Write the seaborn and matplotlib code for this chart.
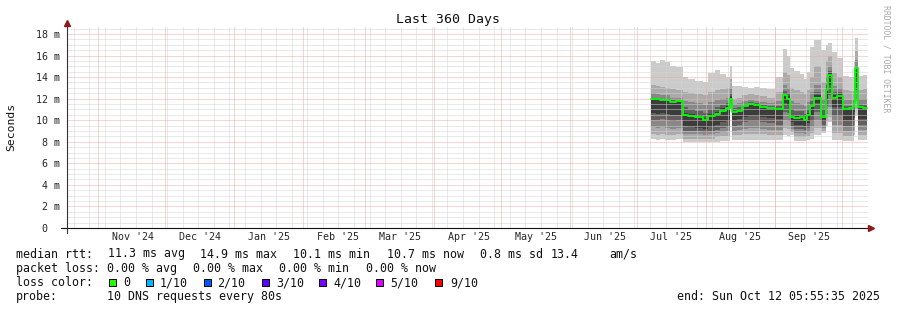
import matplotlib
matplotlib.use("Agg")
import matplotlib.pyplot as plt
from matplotlib.lines import Line2D
from matplotlib.patches import Rectangle
import numpy as np
import pandas as pd
import seaborn as sns

# ---------------- data ----------------
dates = ["2025-07-07 10:00", "2025-07-09 12:00", "2025-07-11 12:00", "2025-07-13 12:00",
         "2025-07-15 22:00", "2025-07-18 12:00", "2025-07-21 20:00", "2025-07-24 00:00",
         "2025-07-27 06:00", "2025-07-30 18:00", "2025-08-02 00:00", "2025-08-05 00:00",
         "2025-08-07 10:00", "2025-08-10 00:00", "2025-08-11 20:00", "2025-08-12 18:00",
         "2025-08-15 00:00", "2025-08-17 08:00", "2025-08-20 00:00", "2025-08-22 12:00",
         "2025-08-25 10:00", "2025-08-28 12:00", "2025-09-01 02:00", "2025-09-04 16:00",
         "2025-09-06 12:00", "2025-09-07 20:00", "2025-09-09 12:00", "2025-09-12 08:00",
         "2025-09-14 06:00", "2025-09-15 12:00", "2025-09-16 20:00", "2025-09-18 14:00",
         "2025-09-21 18:00", "2025-09-24 00:00", "2025-09-24 22:00", "2025-09-26 16:00",
         "2025-09-29 00:00", "2025-10-01 16:00", "2025-10-04 12:00", "2025-10-06 12:00",
         "2025-10-07 04:00", "2025-10-08 10:00", "2025-10-10 12:00", "2025-10-12 06:00"]

median = [12.0, 12.0, 11.9, 11.9, 11.7, 11.8, 10.5, 10.4, 10.3, 10.0, 10.4, 10.6,
          10.9, 11.1, 12.0, 10.8, 10.9, 11.3, 11.5, 11.4, 11.2, 11.1, 11.0, 12.3,
          12.0, 10.3, 10.2, 10.3, 10.0, 10.5, 11.3, 12.1, 10.3, 12.8, 14.2, 12.1,
          12.2, 11.0, 11.1, 11.6, 14.8, 11.2, 11.1, 11.1]

lo1 = [8.3, 8.2, 8.3, 8.2, 8.2, 8.3, 8.0, 8.0, 8.0, 8.0, 8.0, 8.0,
       8.1, 8.1, 11.0, 8.2, 8.2, 8.2, 8.2, 8.2, 8.2, 8.2, 8.2, 8.6,
       8.5, 8.6, 8.1, 8.1, 8.1, 8.2, 8.3, 8.6, 8.8, 9.5, 9.8, 8.2,
       8.2, 8.1, 8.1, 8.6, 10.5, 8.2, 8.2, 8.2]
hi1 = [15.5, 15.3, 15.6, 15.4, 15.0, 14.9, 14.0, 13.8, 13.6, 13.5, 14.4, 14.7,
       14.3, 14.0, 15.0, 13.2, 13.2, 13.1, 13.0, 13.1, 13.0, 12.9, 14.0, 16.6,
       16.0, 14.8, 14.6, 14.3, 13.8, 14.5, 16.8, 17.4, 16.5, 17.0, 17.2, 16.3,
       15.8, 14.1, 14.0, 15.5, 17.6, 14.1, 14.2, 14.2]
lo2 = [8.7, 8.6, 8.7, 8.6, 8.6, 8.7, 8.3, 8.3, 8.3, 8.3, 8.3, 8.4,
       8.5, 8.5, 11.1, 8.6, 8.6, 8.7, 8.7, 8.7, 8.7, 8.6, 8.6, 9.3,
       9.2, 8.9, 8.4, 8.4, 8.4, 8.5, 8.8, 9.3, 9.0, 9.9, 10.3, 8.8,
       8.8, 8.5, 8.5, 9.0, 11.0, 8.6, 8.6, 8.6]
hi2 = [13.3, 13.2, 13.1, 13.0, 12.9, 12.8, 12.6, 12.5, 12.4, 12.3, 12.6, 12.8,
       12.9, 13.0, 13.8, 12.0, 12.1, 12.3, 12.4, 12.3, 12.2, 12.1, 12.6, 14.5,
       14.2, 13.0, 12.8, 12.6, 12.4, 12.8, 14.0, 15.0, 13.5, 15.5, 16.0, 14.4,
       14.0, 12.8, 12.7, 13.5, 16.4, 12.8, 12.9, 12.9]
lo3 = [9.4, 9.3, 9.4, 9.3, 9.2, 9.3, 8.7, 8.7, 8.7, 8.6, 8.7, 8.8,
       8.9, 9.0, 11.3, 9.0, 9.1, 9.2, 9.3, 9.3, 9.2, 9.1, 9.1, 10.0,
       9.9, 9.2, 8.8, 8.8, 8.7, 8.9, 9.4, 10.0, 9.3, 10.6, 11.2, 9.6,
       9.6, 9.0, 9.0, 9.6, 11.8, 9.1, 9.1, 9.1]
hi3 = [12.5, 12.4, 12.3, 12.3, 12.1, 12.1, 11.8, 11.7, 11.6, 11.4, 11.7, 11.9,
       12.0, 12.1, 13.0, 11.5, 11.6, 11.8, 11.9, 11.8, 11.7, 11.6, 11.8, 13.3,
       13.0, 11.8, 11.6, 11.5, 11.3, 11.7, 12.6, 13.3, 12.0, 14.0, 15.0, 13.2,
       13.0, 11.9, 11.9, 12.5, 15.6, 12.0, 12.0, 12.0]
lo4 = [10.0, 10.0, 10.1, 10.0, 9.9, 10.0, 9.0, 9.0, 9.0, 8.9, 9.0, 9.1,
       9.3, 9.4, 11.5, 9.5, 9.6, 9.8, 9.9, 9.9, 9.8, 9.7, 9.6, 10.8,
       10.7, 9.5, 9.2, 9.2, 9.1, 9.3, 9.9, 10.8, 9.6, 11.3, 12.3, 10.4,
       10.4, 9.5, 9.5, 10.2, 12.8, 9.6, 9.6, 9.6]
hi4 = [12.1, 12.1, 12.0, 12.0, 11.9, 11.9, 11.2, 11.0, 10.9, 10.7, 11.0, 11.2,
       11.4, 11.6, 12.5, 11.1, 11.2, 11.5, 11.7, 11.6, 11.4, 11.3, 11.3, 12.7,
       12.5, 11.0, 10.9, 10.9, 10.6, 11.0, 11.8, 12.6, 11.0, 13.3, 14.6, 12.6,
       12.6, 11.3, 11.3, 11.9, 15.0, 11.5, 11.4, 11.4]
lo5 = [10.7, 10.6, 10.7, 10.6, 10.5, 10.5, 9.5, 9.4, 9.3, 9.2, 9.4, 9.6,
       9.8, 9.9, 11.7, 10.0, 10.1, 10.3, 10.4, 10.4, 10.3, 10.2, 10.1, 11.6,
       11.4, 9.8, 9.6, 9.6, 9.5, 9.7, 10.5, 11.6, 9.9, 12.0, 13.3, 11.2,
       11.2, 10.0, 10.0, 10.8, 13.8, 10.1, 10.1, 10.1]
hi5 = [11.9, 11.9, 11.8, 11.8, 11.7, 11.7, 10.7, 10.6, 10.5, 10.2, 10.6, 10.8,
       11.1, 11.3, 12.2, 10.9, 11.0, 11.3, 11.5, 11.4, 11.2, 11.1, 11.0, 12.5,
       12.2, 10.5, 10.4, 10.5, 10.2, 10.7, 11.5, 12.3, 10.5, 13.0, 14.4, 12.3,
       12.4, 11.1, 11.2, 11.7, 14.9, 11.3, 11.2, 11.2]

month_labels = ["Nov '24", "Dec '24", "Jan '25", "Feb '25", "Mar '25", "Apr '25",
                "May '25", "Jun '25", "Jul '25", "Aug '25", "Sep '25"]
y_ticks = [0, 2, 4, 6, 8, 10, 12, 14, 16, 18]
y_tick_labels = ["0  ", "2 m", "4 m", "6 m", "8 m", "10 m", "12 m", "14 m", "16 m", "18 m"]

loss_labels = ["0", "1/10", "2/10", "3/10", "4/10", "5/10", "9/10"]
loss_colors = ["#26ff00", "#00b8ff", "#0059ff", "#5e00ff", "#7e00ff", "#dd00ff", "#ff0000"]

title = "Last 360 Days"
rtt_line = ["median rtt:", "11.3 ms avg", "14.9 ms max", "10.1 ms min", "10.7 ms now",
            "0.8 ms sd", "13.4", "am/s"]
loss_line = ["packet loss:", "0.00 % avg", "0.00 % max", "0.00 % min", "0.00 % now"]
probe_line = ["probe:", "10 DNS requests every 80s"]
end_text = "end: Sun Oct 12 05:55:35 2025"

# ---------------- style ----------------
sns.set_style("white")
plt.rcParams['font.family'] = ['DejaVu Sans Mono', 'DejaVu Sans']

W, H = 897, 310
fig = plt.figure(figsize=(W / 100, H / 100), dpi=100)
fig.patch.set_facecolor("white")

def fx(px):
    return px / W

def fy(py):
    return 1 - py / H

ax = fig.add_axes([fx(67), fy(228), (868 - 67) / W, (228 - 26) / H])
ax.set_facecolor("white")

t = pd.to_datetime(dates)
x_start = pd.Timestamp("2024-10-17 21:50")
x_end = x_start + pd.Timedelta(days=360)

smoke_colors = ["#cbcbcb", "#aaaaaa", "#888888", "#606060", "#3c3c3c"]
for lo, hi, c in zip([lo1, lo2, lo3, lo4, lo5], [hi1, hi2, hi3, hi4, hi5], smoke_colors):
    ax.fill_between(t, lo, hi, step="post", color=c, linewidth=0, zorder=2)

sns.lineplot(x=t, y=median, ax=ax, drawstyle="steps-post", color="#00ff00",
             linewidth=1.3, zorder=7)

ax.set_xlim(x_start, x_end)
ax.set_ylim(0, 18.74)

# grid
month_starts = pd.date_range("2024-11-01", "2025-10-01", freq="MS")
label_pos = month_starts[:len(month_labels)] + pd.Timedelta(days=15.5)
sundays = pd.date_range(x_start, x_end, freq="W-SUN")

ax.set_xticks(label_pos)
ax.set_xticklabels(month_labels)
ax.set_xticks(sundays, minor=True)
ax.set_yticks(y_ticks)
ax.set_yticklabels(y_tick_labels)
ax.set_yticks(np.arange(0, 18.74, 0.5), minor=True)

ax.set_axisbelow(False)
dot = (0, (1, 1))
gray_kw = dict(color="#d4d4d4", linestyle=dot, linewidth=0.72)
red_kw = dict(color="#f4aaaa", linestyle=dot, linewidth=0.72)
ax.grid(False)
ax.xaxis.grid(True, which="minor", zorder=5, **gray_kw)
ax.yaxis.grid(True, which="minor", zorder=5, **gray_kw)
ax.yaxis.grid(True, which="major", zorder=6, **red_kw)
for m in month_starts:
    ax.axvline(m, zorder=6, **red_kw)

ax.tick_params(axis="both", which="both", length=0)
ax.tick_params(axis="y", labelsize=7.2, pad=5)
ax.tick_params(axis="x", labelsize=7.2, pad=3.2)
for s in ax.spines.values():
    s.set_visible(False)
ax.set_xlabel("")
ax.set_ylabel("")

# axis lines with arrows
fig.add_artist(Line2D([fx(61), fx(870)], [fy(228), fy(228)], color="#111111",
                      linewidth=0.8, transform=fig.transFigure))
fig.add_artist(Line2D([fx(67), fx(67)], [fy(233), fy(24)], color="#333333",
                      linewidth=0.8, transform=fig.transFigure))
fig.add_artist(Line2D([fx(871)], [fy(228)], marker=">", markersize=4, color="#8b1a1a",
                      linestyle="none", transform=fig.transFigure))
fig.add_artist(Line2D([fx(67)], [fy(23)], marker="^", markersize=4, color="#8b1a1a",
                      linestyle="none", transform=fig.transFigure))

# texts
fig.text(fx(448), fy(19), title, ha="center", va="center", fontsize=9.5, color="#111111")
fig.text(fx(11), fy(127), "Seconds", ha="center", va="center", rotation=90,
         fontsize=8.2, color="#111111")
fig.text(fx(886), fy(59), "RRDTOOL / TOBI OETIKER", ha="center", va="center",
         rotation=270, fontsize=5.9, color="#aaaaaa")

fs = 8.4
rtt_x = [16, 108, 200, 293, 387, 480, 551, 609]
for s, xp in zip(rtt_line, rtt_x):
    fig.text(fx(xp), fy(254), s, ha="left", va="center", fontsize=fs, color="#111111")
loss_x = [16, 107, 193, 279, 366]
for s, xp in zip(loss_line, loss_x):
    fig.text(fx(xp), fy(268.3), s, ha="left", va="center", fontsize=fs, color="#111111")
fig.text(fx(16), fy(282.7), "loss color:", ha="left", va="center", fontsize=fs, color="#111111")
sq_x = [109, 146, 203.5, 261.5, 318.5, 376, 435]
lab_x = [123, 160, 217, 276, 333, 390, 450]
for c, lab, sx, lx in zip(loss_colors, loss_labels, sq_x, lab_x):
    fig.add_artist(Rectangle((fx(sx), fy(286)), 7 / W, 7 / H, facecolor=c,
                             edgecolor="#000000", linewidth=0.7, transform=fig.transFigure))
    fig.text(fx(lx), fy(282.7), lab, ha="left", va="center", fontsize=fs, color="#111111")
fig.text(fx(16), fy(296.7), probe_line[0], ha="left", va="center", fontsize=fs, color="#111111")
fig.text(fx(107), fy(296.7), probe_line[1], ha="left", va="center", fontsize=fs, color="#111111")
fig.text(fx(880), fy(296.7), end_text, ha="right", va="center", fontsize=fs, color="#111111")

fig.savefig("out.png", dpi=100, facecolor="white")
